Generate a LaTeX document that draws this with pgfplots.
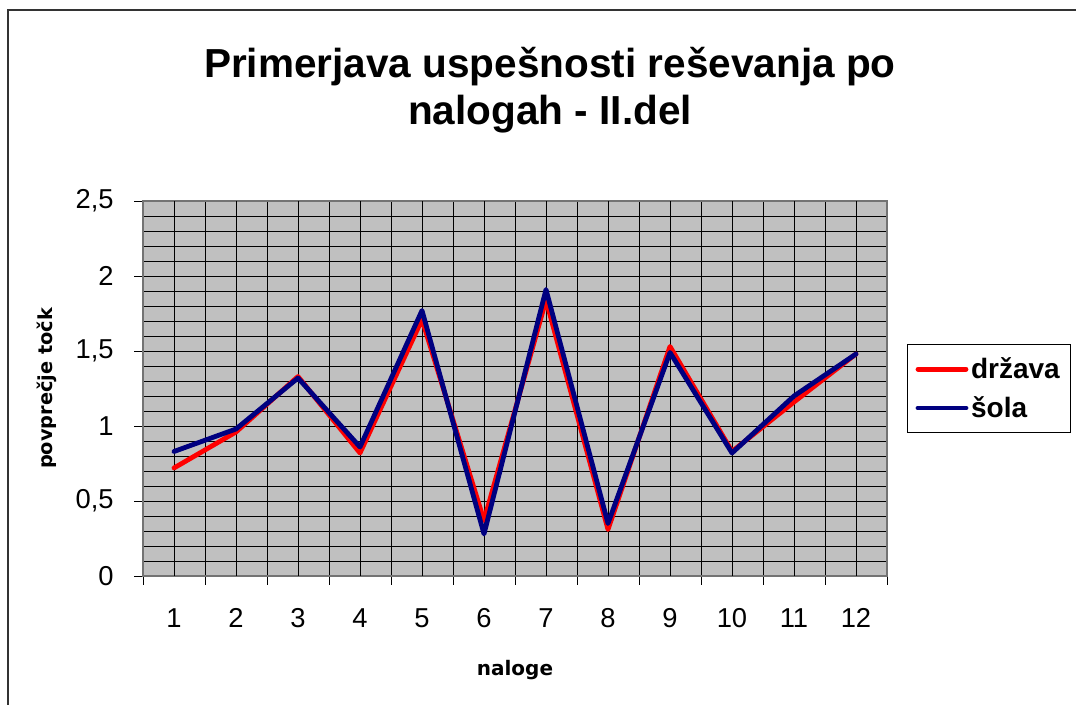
\documentclass[border=0pt]{standalone}
\usepackage{fontspec}
\setmainfont{Liberation Sans}
\newfontfamily\dejavu{DejaVu Sans}
\usepackage{pgfplots}
\pgfplotsset{compat=1.18}
\definecolor{bg}{HTML}{C0C0C0}
\definecolor{navyb}{HTML}{000080}
\definecolor{frame}{HTML}{333333}
\begin{document}
\begin{tikzpicture}
\useasboundingbox (0,0) rectangle (807pt,-528.75pt);
\draw[line width=1.1pt, color=frame] (6pt,-535pt) -- (6pt,-7.5pt) -- (815pt,-7.5pt);
\begin{scope}[x=0.75pt,y=-0.75pt]
\node[anchor=base, font=\bfseries\fontsize{30.4}{36}\selectfont, inner sep=0pt] at (550,78) {Primerjava uspešnosti reševanja po};
\node[anchor=base, font=\bfseries\fontsize{30.4}{36}\selectfont, inner sep=0pt] at (550,125) {nalogah - II.del};
\end{scope}
\begin{axis}[
  at={(107.25pt,-432pt)}, anchor=south west,
  scale only axis, width=558pt, height=281.25pt,
  xmin=0.5, xmax=12.5, ymin=0, ymax=2.5,
  axis background/.style={fill=bg},
  xtick={0.5,1.5,...,12.5}, xticklabels={},
  extra x ticks={1,2,3,4,5,6,7,8,9,10,11,12},
  extra x tick labels={1,2,3,4,5,6,7,8,9,10,11,12},
  extra x tick style={major tick length=0pt, grid=major},
  ytick={0,0.5,1,1.5,2,2.5}, yticklabels={0,{0,5},1,{1,5},2,{2,5}},
  minor y tick num=4, minor tick length=0pt,
  major tick length=6.5pt,
  tick align=outside, tick pos=left,
  grid=both,
  major grid style={black, line width=0.6pt},
  minor grid style={black, line width=0.6pt},
  tick style={black, line width=0.7pt},
  axis line style={draw=black!55, line width=1.4pt},
  tick label style={font=\fontsize{20.5}{24}\selectfont},
  xticklabel style={yshift=-21pt},
  yticklabel style={xshift=-12pt},
  /pgf/number format/assume math mode=true,
  xlabel={naloge}, ylabel={povprečje točk},
  xlabel style={font=\dejavu\bfseries\fontsize{15}{18}\selectfont, at={(axis description cs:0.5,-0.25)}, anchor=center},
  ylabel style={font=\dejavu\bfseries\fontsize{14.5}{17}\selectfont, at={(axis description cs:-0.129,0.5)}, anchor=center},
  legend style={at={(axis description cs:1.027,0.619)}, anchor=north west, draw=black, line width=0.8pt, fill=white,
    font=\bfseries\fontsize{21}{25}\selectfont, inner xsep=6pt, inner ysep=8pt, row sep=8pt},
  legend cell align=left,
  legend image code/.code={\draw[#1] (0pt,0pt) -- (36pt,0pt);},
  every axis plot/.append style={line width=3.6pt, line join=round, line cap=round},
]
\addplot[color=red] coordinates {
(1,0.72) (2,0.96) (3,1.33) (4,0.82) (5,1.71) (6,0.37) (7,1.84) (8,0.31) (9,1.53) (10,0.83) (11,1.16) (12,1.48)};
\addlegendentry{država}
\addplot[color=navyb] coordinates {
(1,0.83) (2,0.98) (3,1.32) (4,0.86) (5,1.77) (6,0.28) (7,1.91) (8,0.35) (9,1.49) (10,0.82) (11,1.20) (12,1.48)};
\addlegendentry{šola}
\end{axis}
\end{tikzpicture}
\end{document}
